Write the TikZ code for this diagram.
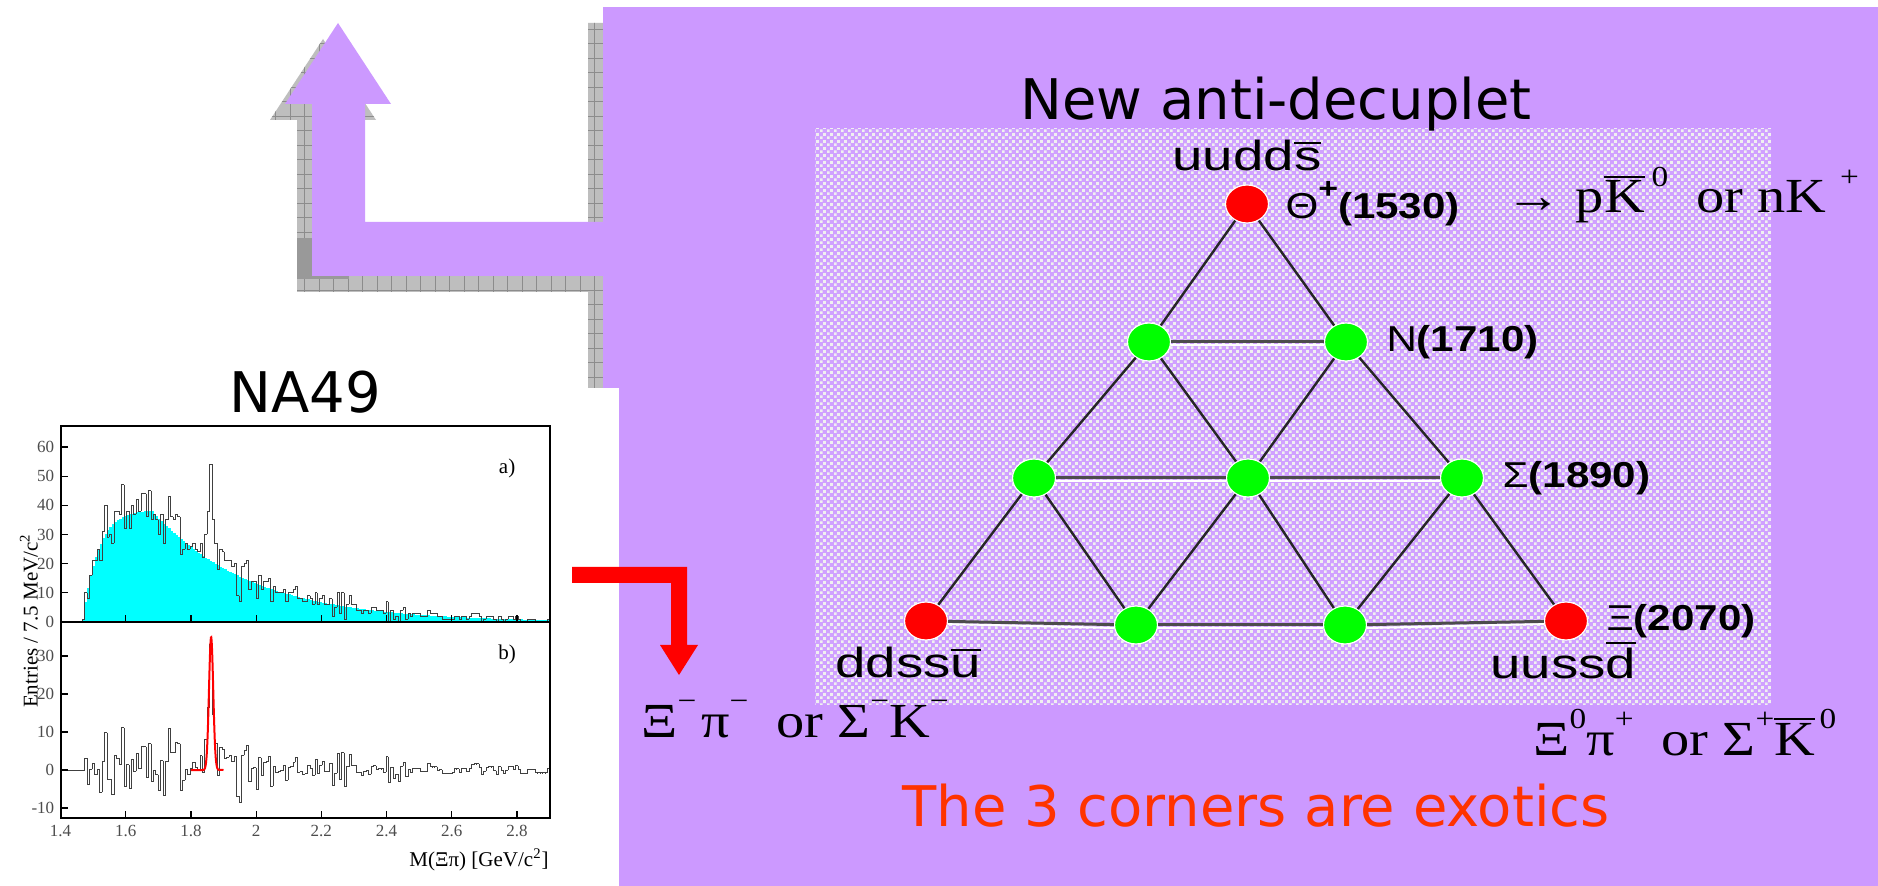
\documentclass[tikz,border=0pt]{standalone}
\usepackage{fontspec}
\usepackage{graphicx}
\usepackage{tikz}
\usetikzlibrary{positioning,shapes.geometric,patterns}
\setmainfont{Liberation Serif}
\newfontfamily\titlefont{DejaVu Sans}
\newfontfamily\lblfont{Liberation Sans}
\definecolor{Lav}{HTML}{CC99FF}
\definecolor{ExoRed}{HTML}{FF3300}
\definecolor{ShadeGray}{HTML}{BEBEBE}
\definecolor{Aqua}{RGB}{0,255,255}

% white specks of the multiplet field
\pgfdeclarepatternformonly{specks}{\pgfqpoint{0pt}{0pt}}{\pgfqpoint{3.6pt}{3.6pt}}{\pgfqpoint{3.6pt}{3.6pt}}{%
  \pgfpathrectangle{\pgfqpoint{0pt}{0pt}}{\pgfqpoint{1.5pt}{1.5pt}}%
  \pgfpathrectangle{\pgfqpoint{1.8pt}{1.8pt}}{\pgfqpoint{1.5pt}{1.5pt}}%
  \pgfusepath{fill}}

% stretched labels, bars and raised charges
\newcommand{\wlbl}[1]{\scalebox{1.17}[1]{#1}}
\newcommand{\qlbl}[1]{\scalebox{1.3}[1]{#1}}
\newcommand{\dlbl}[1]{\scalebox{1.15}[1]{#1}}
\newcommand{\barred}[2][2pt]{\leavevmode\vbox{\hrule height 1pt\kern#1\hbox{#2}}}
\newcommand{\sups}[1]{\raisebox{0.55em}{\fontsize{14.5}{14.5}\selectfont #1}}
\newcommand{\bentarrow}{(603,222) -- (365,222) -- (365,104) -- (391,104) -- (338,23) -- (285,104) -- (312,104) -- (312,276) -- (603,276) -- cycle}

\begin{document}
\begin{tikzpicture}[
    x=0.5pt, y=-0.5pt,
    node distance=9pt,
    every node/.style={inner sep=0pt},
    exotic/.style={ellipse, fill=red, draw=white, line width=0.6pt, minimum width=21.5pt, minimum height=19pt},
    member/.style={exotic, fill=green},
    link/.style={draw=black!85, line width=1.2pt},
    rung/.style={draw=black!70, line width=1.5pt},
    rungshade/.style={draw=white, line width=1pt},
    heading/.style={font=\titlefont\fontsize{28}{34}\selectfont},
    qlabel/.style={font=\lblfont\fontsize{21}{24}\selectfont},
    blabel/.style={font=\lblfont\fontsize{18}{22}\selectfont},
    decay/.style={font=\fontsize{24.5}{28}\selectfont},
    ticklbl/.style={font=\fontsize{8.5}{10}\selectfont, text=black!70},
    axlbl/.style={font=\fontsize{10.5}{12}\selectfont},
    dataline/.style={black!75, line width=0.5pt},
    fitline/.style={red, line width=1pt},
    plotframe/.style={black, line width=1pt}
  ]
  \useasboundingbox (0,0) rectangle (1878,886);
  \fill[white] (0,0) rectangle (1878,886);

  % shadow of the slide shapes
  \fill[ShadeGray, shift={(-15,16)}] \bentarrow (603,7) rectangle (618,372);
  \begin{scope}
    \clip[shift={(-15,16)}] \bentarrow (603,7) rectangle (618,372);
    \draw[black!45, line width=0.4pt, step=7.25pt] (240,0) grid (640,420);
  \end{scope}
  \fill[black!40] (297,238) rectangle (349,279);

  % purple arrow and panel
  \fill[Lav] \bentarrow;
  \fill[Lav] (603,7) rectangle (1878,886);
  \fill[white] (0,388) rectangle (619,886);

  % dotted field behind the multiplet
  \fill[Lav!92!white] (815,129) rectangle (1771,704);
  \fill[pattern=specks, pattern color=white!94!black] (815,129) rectangle (1771,704);

  \node[heading, anchor=base west] (head) at (1020,120) {New anti-decuplet};
  \node[heading, anchor=base] (na) at (305,413) {NA49};
  \node[heading, text=ExoRed, anchor=base] (exo) at (1256,826) {The 3 corners are exotics};

  % anti-decuplet
  \node[exotic] (theta) at (1247,204) {};
  \node[member] (nucl1) at (1149,342) {};
  \node[member] (nucl2) at (1346,342) {};
  \node[member] (sig1) at (1034,478) {};
  \node[member] (sig2) at (1248,478) {};
  \node[member] (sig3) at (1462,478) {};
  \node[exotic] (xi1) at (926,621) {};
  \node[member] (xi2) at (1136,625) {};
  \node[member] (xi3) at (1345,625) {};
  \node[exotic] (xi4) at (1566,621) {};

  \foreach \a/\b in {theta/nucl1, theta/nucl2, nucl1/sig1, nucl1/sig2, nucl2/sig2, nucl2/sig3,
                     sig1/xi1, sig1/xi2, sig2/xi2, sig2/xi3, sig3/xi3, sig3/xi4}
    \draw[link] (\a) -- (\b);
  \foreach \a/\b in {nucl1/nucl2, sig1/sig2, sig2/sig3, xi1/xi2, xi2/xi3, xi3/xi4} {
    \draw[rungshade] ([yshift=-1.5pt]\a.east) -- ([yshift=-1.5pt]\b.west);
    \draw[rung] (\a) -- (\b);
  }

  \node[qlabel, above=6.5pt of theta] (thq) {\qlbl{uudd\barred{s}}};
  \node[blabel, right=8pt of theta] (thlbl) {\wlbl{Θ\sups{\bfseries +}\textbf{(1530)}}};
  \node[blabel, right=9pt of nucl2] (nlbl) {\wlbl{N\textbf{(1710)}}};
  \node[blabel, right=9pt of sig3] (siglbl) {\wlbl{Σ\textbf{(1890)}}};
  \node[blabel, right=9pt of xi4] (xilbl) {\wlbl{Ξ\textbf{(2070)}}};
  \node[qlabel, anchor=base west] (xiq1) at (835,677) {\qlbl{ddss\barred{u}}};
  \node[qlabel, anchor=base west] (xiq4) at (1490,678) {\qlbl{uuss\barred{d}}};

  \node[decay, anchor=base west] (thdec) at (1505,213)
    {\dlbl{→ p\barred[1.5pt]{K}\kern3pt\sups{0}\ \ or nK\kern6pt\sups{+}}};
  \node[decay, anchor=base west] (xidec1) at (641,737)
    {\dlbl{Ξ\sups{−}\kern2pt π\sups{−}\ \ or Σ\sups{−}K\sups{−}}};
  \node[decay, anchor=base west] (xidec4) at (1533,755)
    {\dlbl{Ξ\sups{0}π\sups{+}\ \ or Σ\sups{+}\barred[1.5pt]{K}\kern2pt\sups{0}}};

  % red pointer to the lower corner
  \fill[red] (572,567) -- (687,567) -- (687,645) -- (698,645) -- (679,675) -- (660,645)
    -- (671,645) -- (671,583) -- (572,583) -- cycle;

  % NA49 spectrum
  \begin{scope}[shift={(60.5,0)}, x=163pt]
    \begin{scope}
      \clip (0,426) rectangle (1.5,818);
      \foreach \i in {0,...,199} {
        \pgfmathsetmacro{\mc}{1.40375+0.0075*\i}
        \pgfmathsetmacro{\bg}{38.5*max(1-exp(-min((\mc-1.47)/0.045,9)),0)*exp(-max(\mc-1.68,0)/0.3)}
        \fill[Aqua] ({0.0075*\i},622) rectangle ({0.0075*(\i+1)},{622-2.917*\bg});
      }
      \pgfmathsetseed{2003}
      \xdef\prevu{622}\xdef\prevl{770}
      \foreach \i in {0,...,199} {
        \pgfmathsetmacro{\mc}{1.40375+0.0075*\i}
        \pgfmathsetmacro{\bg}{38.5*max(1-exp(-min((\mc-1.47)/0.045,9)),0)*exp(-max(\mc-1.68,0)/0.3)}
        \def\sig{0}
        \ifnum\i>56 \ifnum\i<67 \pgfmathsetmacro{\sig}{33*exp(-0.5*((\mc-1.862)/0.0065)^2)}\fi\fi
        \pgfmathsetmacro{\cnt}{max(round(\bg+\sig+1.1*(rand+rand)*sqrt(\bg)),0)}
        \pgfmathsetmacro{\yu}{622-2.917*\cnt}
        \pgfmathsetmacro{\yl}{770-3.8*(\cnt-\bg)}
        \draw[dataline] ({0.0075*\i},\prevu) -- ({0.0075*\i},\yu) -- ({0.0075*(\i+1)},\yu);
        \draw[dataline] ({0.0075*\i},\prevl) -- ({0.0075*\i},\yl) -- ({0.0075*(\i+1)},\yl);
        \xdef\prevu{\yu}\xdef\prevl{\yl}
      }
      \draw[fitline] (0.4,770) -- (0.438,770)
        -- plot[domain=0.438:0.486, samples=50] (\x,{770-3.8*35*exp(-0.5*((\x+1.4-1.862)/0.0065)^2)})
        -- (0.5,770);
    \end{scope}
    \draw[plotframe] (0,426) rectangle (1.5,818);
    \draw[plotframe] (0,622) -- (1.5,622);
    \foreach \m in {0,0.2,0.4,0.6,0.8,1,1.2,1.4} {
      \draw[black, line width=0.6pt] (\m,818) -- (\m,811);
      \draw[black, line width=0.6pt] (\m,622) -- (\m,615);
    }
    \foreach \v in {0,10,20,30,40,50,60} {
      \draw[black, line width=0.6pt] (0,{622-2.917*\v}) -- ++(3.5pt,0pt);
      \node[ticklbl, anchor=east] (yu\v) at (-0.018,{622-2.917*\v}) {\v};
    }
    \foreach \v in {-10,0,10,20,30} {
      \draw[black, line width=0.6pt] (0,{770-3.8*\v}) -- ++(3.5pt,0pt);
      \node[ticklbl, anchor=east] (yl\v) at (-0.018,{770-3.8*\v}) {\v};
    }
    \foreach \m/\t in {0/1.4, 0.2/1.6, 0.4/1.8, 0.6/2, 0.8/2.2, 1/2.4, 1.2/2.6, 1.4/2.8}
      \node[ticklbl] (xt\t) at (\m,831) {\t};
    \node[axlbl] (pa) at (1.37,468) {a)};
    \node[axlbl] (pb) at (1.37,654) {b)};
  \end{scope}
  \node[axlbl, rotate=90] (ylab) at (29,621) {Entries / 7.5 MeV/c\textsuperscript{2}};
  \node[axlbl, anchor=east] (xlab) at (549,860) {M(Ξπ) [GeV/c\textsuperscript{2}]};
\end{tikzpicture}
\end{document}
